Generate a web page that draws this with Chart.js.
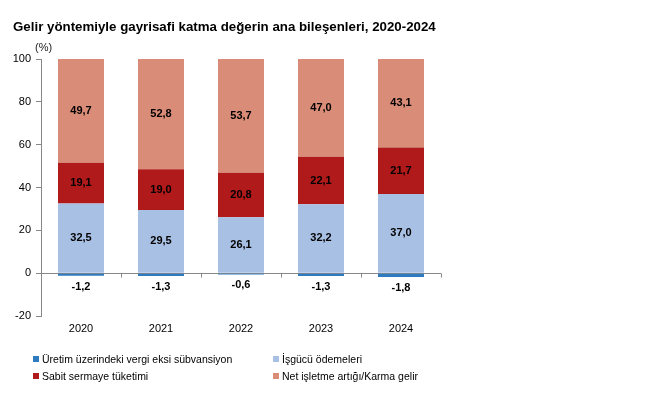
<!DOCTYPE html>
<html>
<head>
<meta charset="utf-8">
<script src="https://cdn.jsdelivr.net/npm/chart.js@4"></script>
<style>
  body { margin: 0; background: #fff; font-family: "Liberation Sans", Arial, sans-serif; }
  #wrap { position: relative; width: 664px; height: 394px; }
  #chart { position: absolute; left: 0; top: 0; }
  .title { position: absolute; left: 13px; top: 19px; font-size: 13.3px; font-weight: bold; color: #000; white-space: nowrap; }
  .unit { position: absolute; left: 35px; top: 41px; font-size: 11px; color: #222; }
  .legend { position: absolute; font-size: 10.5px; color: #000; white-space: nowrap; line-height: 13px; }
  .legend i { display: inline-block; width: 6px; height: 6px; margin-right: 3px; vertical-align: 1px; }
</style>
</head>
<body>
<div id="wrap">
  <canvas id="chart" width="664" height="394"></canvas>
  <div class="title">Gelir yöntemiyle gayrisafi katma değerin ana bileşenleri, 2020-2024</div>
  <div class="unit">(%)</div>
  <div id="legend"></div>
</div>
<script>
/* ---- data ---- */
const years = ["2020", "2021", "2022", "2023", "2024"];
const vergi = [-1.2, -1.3, -0.6, -1.3, -1.8];
const isgucu = [32.5, 29.5, 26.1, 32.2, 37.0];
const sabit = [19.1, 19.0, 20.8, 22.1, 21.7];
const netIsletme = [49.7, 52.8, 53.7, 47.0, 43.1];
const yTicks = [-20, 0, 20, 40, 60, 80, 100];

const seriesNames = [
  "Üretim üzerindeki vergi eksi sübvansiyon",
  "İşgücü ödemeleri",
  "Sabit sermaye tüketimi",
  "Net işletme artığı/Karma gelir",
];
const colors = ["#2E7BC0", "#A8C0E4", "#B01A1B", "#D98C77"];

/* ---- legend (two columns) ---- */
function buildLegend() {
  const pos = [[33, 353], [273, 353], [33, 370], [273, 370]];
  const box = document.getElementById("legend");
  seriesNames.forEach((name, i) => {
    const el = document.createElement("div");
    el.className = "legend";
    el.style.left = pos[i][0] + "px";
    el.style.top = pos[i][1] + "px";
    el.innerHTML = `<i style="background:${colors[i]}"></i>${name}`;
    box.appendChild(el);
  });
}
buildLegend();

/* ---- value labels inside segments ---- */
const valueLabels = {
  id: "valueLabels",
  afterDatasetsDraw(chart) {
    const ctx = chart.ctx;
    ctx.save();
    ctx.font = "bold 11px 'Liberation Sans', Arial";
    ctx.fillStyle = "#000";
    ctx.textAlign = "center";
    ctx.textBaseline = "middle";
    chart.data.datasets.forEach((ds, di) => {
      chart.getDatasetMeta(di).data.forEach((bar, i) => {
        const v = ds.data[i];
        const txt = v.toFixed(1).replace(".", ",");
        let y;
        if (v < 0) {
          y = Math.max(bar.y, bar.base) + 11;
        } else {
          const top = Math.max(bar.y, chart.chartArea.top);
          y = (top + bar.base) / 2;
        }
        ctx.fillText(txt, bar.x, y);
      });
    });
    ctx.restore();
  },
};

/* ---- category tick marks on zero line ---- */
const zeroTicks = {
  id: "zeroTicks",
  afterDraw(chart) {
    const ctx = chart.ctx;
    const x = chart.scales.x;
    const y0 = Math.round(chart.scales.y.getPixelForValue(0)) + 0.5;
    const step = (x.right - x.left) / years.length;
    ctx.save();
    ctx.strokeStyle = "#888";
    ctx.lineWidth = 1;
    ctx.beginPath();
    for (let i = 1; i <= years.length; i++) {
      const px = Math.round(x.left + step * i) + 0.5;
      ctx.moveTo(px, y0);
      ctx.lineTo(px, y0 + 4);
    }
    ctx.stroke();
    ctx.restore();
  },
};

new Chart(document.getElementById("chart"), {
  type: "bar",
  data: {
    labels: years,
    datasets: [vergi, isgucu, sabit, netIsletme].map((d, i) => ({
      label: seriesNames[i],
      data: d,
      backgroundColor: colors[i],
      borderWidth: 0,
      categoryPercentage: 1,
      barPercentage: 0.575,
    })),
  },
  options: {
    responsive: false,
    animation: false,
    devicePixelRatio: 1,
    layout: { padding: { left: 0, top: 59, right: 223, bottom: 54 } },
    plugins: {
      legend: { display: false },
      tooltip: { enabled: false },
    },
    scales: {
      x: {
        stacked: true,
        grid: { display: false, drawTicks: false },
        border: { display: false },
        ticks: { color: "#000", font: { size: 11, family: "'Liberation Sans', Arial" }, padding: 6 },
        afterFit: (s) => { s.height = 24; },
      },
      y: {
        stacked: true,
        min: -20,
        max: 100,
        afterBuildTicks: (s) => { s.ticks = yTicks.map((v) => ({ value: v })); },
        grid: {
          color: (c) => (c.tick && c.tick.value === 0 ? "#888" : "transparent"),
          tickColor: "#888",
          tickLength: 5,
        },
        border: { color: "#888" },
        ticks: { color: "#000", font: { size: 11, family: "'Liberation Sans', Arial" }, padding: 5 },
        afterFit: (s) => { s.width = 41; },
      },
    },
  },
  plugins: [valueLabels, zeroTicks],
});
</script>
</body>
</html>
